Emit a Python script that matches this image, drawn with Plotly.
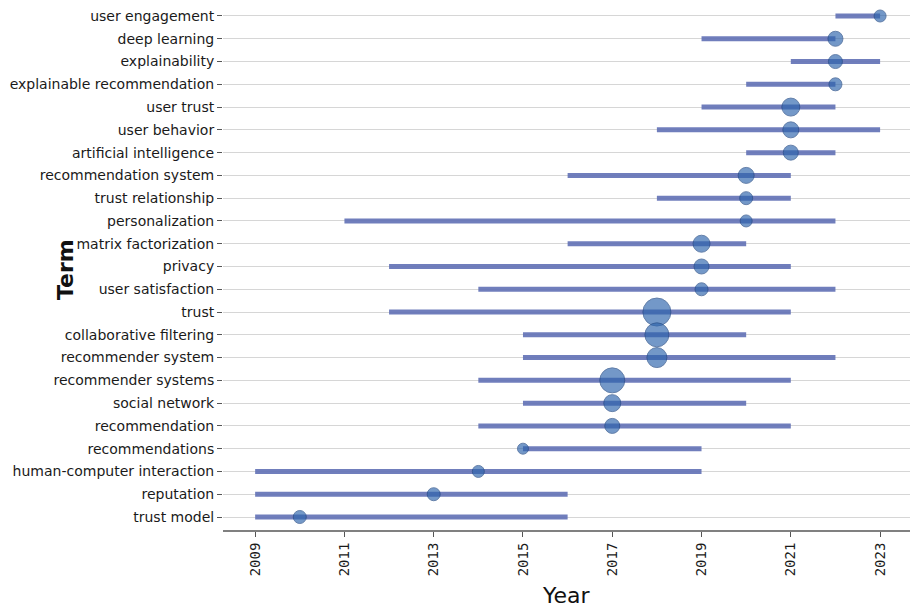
import plotly.graph_objects as go

terms = ["user engagement", "deep learning", "explainability", "explainable recommendation",
         "user trust", "user behavior", "artificial intelligence", "recommendation system",
         "trust relationship", "personalization", "matrix factorization", "privacy",
         "user satisfaction", "trust", "collaborative filtering", "recommender system",
         "recommender systems", "social network", "recommendation", "recommendations",
         "human-computer interaction", "reputation", "trust model"]
start_year = [2022, 2019, 2021, 2020, 2019, 2018, 2020, 2016, 2018, 2011, 2016, 2012,
              2014, 2012, 2015, 2015, 2014, 2015, 2014, 2015, 2009, 2009, 2009]
end_year = [2023, 2022, 2023, 2022, 2022, 2023, 2022, 2021, 2021, 2022, 2020, 2021,
            2022, 2021, 2020, 2022, 2021, 2020, 2021, 2019, 2019, 2016, 2016]
median_year = [2023, 2022, 2022, 2022, 2021, 2021, 2021, 2020, 2020, 2020, 2019, 2019,
               2019, 2018, 2018, 2018, 2017, 2017, 2017, 2015, 2014, 2013, 2010]
dot_size = [12, 15, 14, 13, 18, 16, 15, 16, 13, 12, 17, 15,
            13, 28, 24, 20, 25, 17, 15, 11, 12, 13, 13]
tick_years = [2009, 2011, 2013, 2015, 2017, 2019, 2021, 2023]

lx, ly = [], []
for t, s, e in zip(terms, start_year, end_year):
    lx += [s, e, None]
    ly += [t, t, None]

W, H = 921, 611
ML, MR, MT, MB = 215, 19, 0, 89

fig = go.Figure()
fig.add_trace(go.Scatter(x=lx, y=ly, mode="lines",
                         line=dict(color="rgba(100,115,182,0.92)", width=5),
                         hoverinfo="skip", showlegend=False))
fig.add_trace(go.Scatter(x=median_year, y=terms, mode="markers",
                         marker=dict(size=dot_size, color="rgba(45,100,172,0.94)",
                                     line=dict(color="rgba(30,70,130,0.95)", width=1)),
                         showlegend=False))

pw = W - ML - MR
ph = H - MT - MB


def px_to_paper(x, y):
    return (x - ML) / pw, (H - MB - y) / ph


tx, ty = px_to_paper(57, 262)
yx, yy = px_to_paper(558, 587)

fig.update_layout(
    width=W, height=H,
    margin=dict(l=ML, r=MR, t=MT, b=MB, autoexpand=False),
    plot_bgcolor="white", paper_bgcolor="white",
    font=dict(family="DejaVu Sans", size=14, color="#222"),
    xaxis=dict(range=[2008.28, 2023.67], tickvals=tick_years,
               ticktext=[str(v) for v in tick_years], tickangle=-90,
               showgrid=False, zeroline=False, showline=True, linecolor="#808080",
               linewidth=2, ticks="outside", ticklen=5, tickcolor="#555",
               tickfont=dict(family="DejaVu Sans Mono", size=14, color="#1a1a1a")),
    yaxis=dict(type="category", categoryorder="array", categoryarray=terms[::-1],
               range=[-0.571, 22.351], showgrid=True, gridcolor="#d6d6d6",
               gridwidth=1, zeroline=False, showline=False, ticks="outside",
               ticklen=5, tickcolor="#555", tickfont=dict(size=14, color="#1a1a1a")),
    annotations=[
        dict(text="<b>Term</b>", x=tx, y=ty, xref="paper", yref="paper",
             xanchor="center", yanchor="middle",
             showarrow=False, textangle=-90, font=dict(size=22, color="#111")),
        dict(text="Year", x=yx, y=yy, xref="paper", yref="paper",
             xanchor="center", yanchor="middle",
             showarrow=False, font=dict(size=22, color="#111")),
    ],
)

fig.write_html("out.html")
